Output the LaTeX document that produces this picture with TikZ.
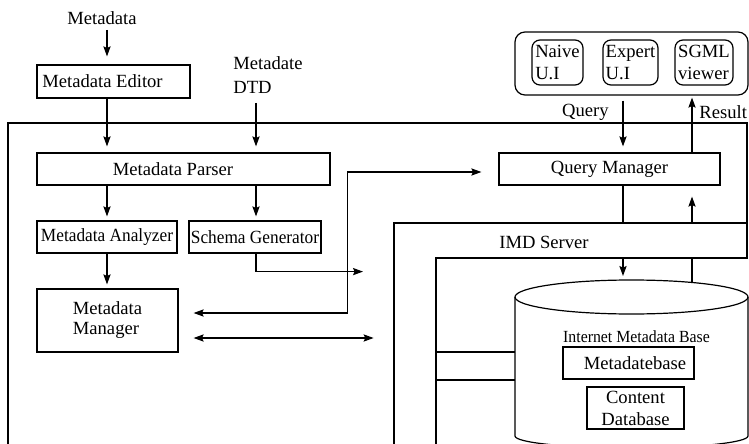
\documentclass[tikz,border=0pt]{standalone}
\usepackage{fontspec}
\usepackage{graphicx}
\setmainfont{Liberation Serif}
\usetikzlibrary{arrows.meta,calc}
\begin{document}
\begin{tikzpicture}[x=0.5pt,y=-0.5pt,
  every node/.style={font=\fontsize{9.3}{11}\selectfont, inner sep=0pt},
  conn/.style={line width=0.6pt},
  box/.style={draw, conn},
  rbox/.style={draw, conn, rounded corners=4pt, align=left},
  frame/.style={line width=1pt},
  tip/.tip={Stealth[length=5pt,width=3.6pt,inset=0.8pt]},
  arr/.style={conn, -tip},
  darr/.style={conn, tip-tip}]
\useasboundingbox (0,0) rectangle (749,444);
\clip (0,0) rectangle (749,444);

% frames
\draw[frame] (8,444) -- (8,123) -- (747,123) -- (747,223);
\draw[frame] (394,444) -- (394,223) coordinate (imdTL) -- (747,223) -- (747,258) -- (436,258) coordinate (imdIn) -- (436,444);
\node (imdlbl) at (544,242) {IMD Server};

% left column
\node (meta) at (102,18) {Metadata};
\node[box, minimum width=76.5pt, minimum height=16.5pt] (editor) at (113.5,81.5) {\hspace*{-11pt}Metadata Editor};
\node[align=left, anchor=west, font=\fontsize{9.3}{12}\selectfont] (dtd) at (233,75) {Metadate\\DTD};
\node[box, minimum width=146.5pt, minimum height=16pt] (parser) at (183.5,169) {\hspace*{-10.5pt}Metadata Parser};
\node[box, minimum width=70pt, minimum height=16pt] (ana) at (107,237) {\scalebox{0.93}[1]{Metadata Analyzer}};
\node[box, minimum width=66pt, minimum height=16pt] (schema) at (255,237) {\scalebox{0.93}[1]{Schema Generator}};
\node[box, minimum width=70.5pt, minimum height=31.5pt, align=left, font=\fontsize{9.3}{10}\selectfont] (mgr) at (107.5,320.5) {Metadata\\Manager};

% query side
\node[box, minimum width=110.5pt, minimum height=16pt] (qm) at (609.5,169) {Query Manager};
\node[draw, conn, rounded corners=5pt, minimum width=116.5pt, minimum height=31.5pt] (ui) at (631.5,63.5) {};
\node[rbox, minimum width=25.5pt, minimum height=22.5pt] (naive) at (557.5,62.5) {Naive\\U.I};
\node[rbox, minimum width=27.5pt, minimum height=22.5pt] (expert) at (630.5,62.5) {Expert\\U.I};
\node[rbox, minimum width=29pt, minimum height=22.5pt] (sgml) at (704,62.5) {SGML\\viewer};
\node[anchor=east] (qlbl) at (609,112) {Query};
\node[anchor=west] (rlbl) at (699,112) {Result};

% database cylinder
\draw[conn] (631.5,297) ellipse [x radius=58.25pt, y radius=8.5pt];
\draw[conn] (515,297) -- (515,436) arc[start angle=180, end angle=360, x radius=58.25pt, y radius=6pt] -- (748,297);
\coordinate (dbtop) at (631.5,280);
\coordinate (dbback) at (631.5,283);
\node[font=\fontsize{8.5}{10}\selectfont] (imb) at (636.5,337) {\scalebox{0.93}[1]{Internet Metadata Base}};
\node[box, minimum width=65.5pt, minimum height=16pt] (mdb) at (628.5,363) {Metadatebase\hspace*{-6.5pt}};
\node[box, minimum width=48.5pt, minimum height=21pt, align=center] (cdb) at (635.5,408) {Content\\Database};
\draw[conn] (436,352) -- (515,352);
\draw[conn] (436,380) -- (515,380);

% connectors
\draw[arr] ($(meta.south -| ana.north)+(0,5)$) -- ($(editor.north -| ana.north)+(0,-8)$);
\draw[arr] (editor.south -| ana.north) -- ($(parser.north -| ana.north)+(0,-6)$);
\draw[arr] ($(dtd.south -| schema.north)+(1,9)$) -- ($(parser.north -| schema.north)+(1,-6)$);
\draw[arr] (parser.south -| ana.north) -- ($(ana.north)+(0,-4)$);
\draw[arr] ($(parser.south -| schema.north)+(1,0)$) -- ($(schema.north)+(1,-4)$);
\draw[arr] (ana.south) -- ($(mgr.north -| ana.south)+(0,-4)$);
\draw[arr] ($(schema.south)+(1,0)$) -- ++(0,18) -- ++(107,0);
\draw[darr] ($(mgr.east)+(15,-7.5)$) -- ++(154,0) |- ($(qm.west)+(-17,3)$);
\draw[darr] ($(mgr.east)+(15,17.5)$) -- ++(180,0);

\draw[arr] ($(ui.south)+(-8.5,5)$) -- ($(qm.north)+(13.5,-6)$);
\draw[arr] ($(qm.north)+(82.5,0)$) -- ($(ui.south)+(60.5,2)$);
\path (qm.south) ++(13.5,0) coordinate (q1);
\path (qm.south) ++(82.5,0) coordinate (r1);
\draw[conn] (q1) -- (q1 |- imdTL);
\draw[arr] (q1 |- imdIn) -- ($(q1 |- dbtop)+(0,-4)$);
\draw[conn] (r1 |- dbback) -- (r1 |- imdIn);
\draw[arr] (r1 |- imdTL) -- ($(r1)+(0,11)$);
\end{tikzpicture}
\end{document}
